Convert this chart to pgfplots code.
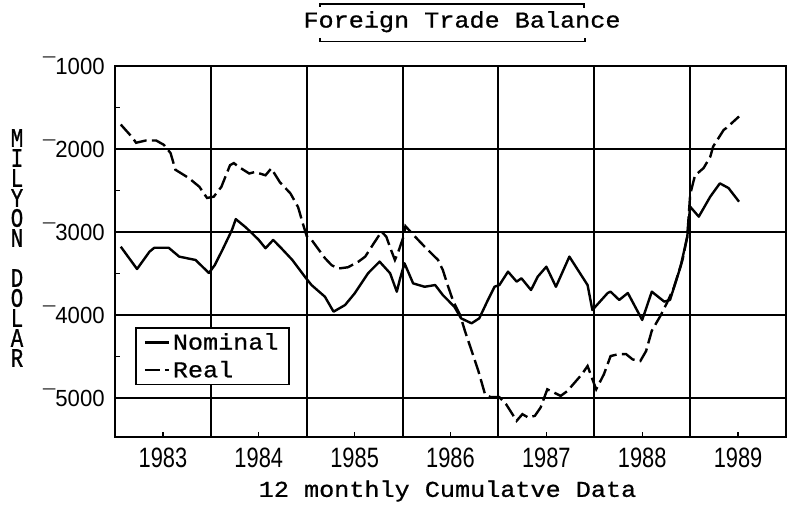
\documentclass[border=0pt]{standalone}
\usepackage{fontspec}
\usepackage{pgfplots}
\pgfplotsset{compat=1.18}
\newfontfamily\monofont[FakeStretch=1.11,FakeBold=0.8]{Liberation Mono}
\newfontfamily\ylabfont[FakeStretch=0.78,FakeBold=0.8]{Liberation Mono}
\newfontfamily\xtickfont[FakeStretch=0.78]{Liberation Sans}
\newfontfamily\ytickfont[FakeStretch=0.95]{Liberation Sans}
\begin{document}
\begin{tikzpicture}
\begin{axis}[
  at={(86.25pt,57.75pt)}, anchor=south west,
  scale only axis, width=503.25pt, height=278.25pt,
  xmin=1983, xmax=1990, ymin=-5470, ymax=-1000,
  axis line style={line width=1.5pt,black},
  xtick={1983.5,1984.5,1985.5,1986.5,1987.5,1988.5,1989.5},
  xticklabels={1983,1984,1985,1986,1987,1988,1989},
  xtick pos=bottom, ytick pos=left, tick align=inside,
  major tick length=4pt, minor tick length=4pt,
  tick style={line width=1pt,black},
  extra x ticks={1984,1985,1986,1987,1988,1989},
  extra x tick labels={},
  extra x tick style={grid=major, major tick length=0pt},
  ytick={-5000,-4000,-3000,-2000,-1000},
  yticklabels={¯5000,¯4000,¯3000,¯2000,¯1000},
  minor ytick={-4500,-3500,-2500,-1500},
  ymajorgrids,
  grid style={line width=1.4pt,black},
  xticklabel style={font=\xtickfont\fontsize{21}{21}\selectfont, anchor=north, inner sep=0pt, yshift=-8.25pt},
  yticklabel style={font=\ytickfont\fontsize{17.5}{17.5}\selectfont, anchor=east, inner sep=0pt, xshift=-7.5pt},
  legend style={at={(0.0298,0.2965)}, anchor=north west, draw=black, line width=1.2pt,
    font=\monofont\fontsize{17}{17}\selectfont, inner xsep=6pt, inner ysep=2pt, row sep=3pt,
    nodes={inner sep=2pt}},
  legend cell align=left,
  legend image code/.code={\draw[#1] (0pt,0pt) -- (18pt,0pt);},
]
\addplot[black, line width=1.8pt, line join=round] coordinates {
(1983.06,-3177)(1983.23,-3446)(1983.36,-3237)(1983.41,-3190)(1983.56,-3190)(1983.67,-3297)
(1983.84,-3337)(1983.98,-3494)(1984.04,-3400)(1984.12,-3217)(1984.22,-2976)(1984.26,-2845)
(1984.36,-2940)(1984.43,-3016)(1984.50,-3096)(1984.57,-3196)(1984.65,-3096)(1984.72,-3177)
(1984.85,-3337)(1984.98,-3538)(1985.05,-3639)(1985.19,-3780)(1985.28,-3960)(1985.40,-3880)
(1985.50,-3740)(1985.64,-3497)(1985.76,-3357)(1985.87,-3497)(1985.94,-3720)(1985.97,-3578)
(1986.02,-3377)(1986.11,-3619)(1986.23,-3660)(1986.34,-3639)(1986.42,-3760)(1986.54,-3900)
(1986.61,-4040)(1986.72,-4100)(1986.80,-4040)(1986.89,-3820)(1986.96,-3659)(1987.01,-3639)
(1987.10,-3478)(1987.19,-3598)(1987.24,-3558)(1987.34,-3699)(1987.41,-3538)(1987.50,-3418)
(1987.60,-3660)(1987.74,-3297)(1987.93,-3639)(1987.98,-3940)(1988.14,-3735)(1988.17,-3719)
(1988.26,-3819)(1988.35,-3735)(1988.50,-4060)(1988.60,-3719)(1988.73,-3839)(1988.79,-3819)
(1988.90,-3418)(1988.97,-3056)(1989.00,-2695)(1989.09,-2815)(1989.21,-2574)(1989.31,-2414)
(1989.40,-2470)(1989.51,-2635)
};
\addlegendentry{Nominal}
\addplot[black, line width=1.8pt, dash pattern=on 11pt off 4pt] coordinates {
(1983.06,-1705)(1983.18,-1860)(1983.22,-1925)(1983.32,-1898)(1983.43,-1898)(1983.51,-1950)
(1983.58,-2050)(1983.63,-2250)(1983.77,-2350)(1983.88,-2455)(1983.96,-2590)(1984.03,-2575)
(1984.11,-2455)(1984.20,-2195)(1984.24,-2170)(1984.29,-2215)(1984.40,-2295)(1984.46,-2277)
(1984.57,-2317)(1984.63,-2234)(1984.72,-2400)(1984.83,-2535)(1984.91,-2700)(1984.96,-2900)
(1985.00,-3050)(1985.05,-3094)(1985.19,-3315)(1985.26,-3400)(1985.33,-3440)(1985.43,-3425)
(1985.54,-3357)(1985.61,-3297)(1985.70,-3136)(1985.78,-2996)(1985.83,-3056)(1985.88,-3217)
(1985.92,-3337)(1985.95,-3257)(1986.01,-3056)(1986.03,-2930)(1986.13,-3056)(1986.23,-3177)
(1986.37,-3337)(1986.42,-3458)(1986.47,-3639)(1986.53,-3840)(1986.60,-4000)(1986.65,-4190)
(1986.72,-4430)(1986.79,-4672)(1986.86,-4954)(1986.92,-4990)(1987.01,-4990)(1987.08,-5075)
(1987.19,-5275)(1987.25,-5195)(1987.31,-5235)(1987.38,-5215)(1987.44,-5115)(1987.51,-4895)
(1987.58,-4935)(1987.65,-4975)(1987.72,-4915)(1987.87,-4715)(1987.93,-4615)(1988.00,-4835)
(1988.02,-4895)(1988.10,-4715)(1988.17,-4495)(1988.24,-4475)(1988.33,-4470)(1988.40,-4535)
(1988.48,-4555)(1988.54,-4435)(1988.60,-4190)(1988.69,-4010)(1988.76,-3850)(1988.83,-3670)
(1988.92,-3337)(1988.97,-3056)(1989.00,-2550)(1989.05,-2320)(1989.14,-2230)(1989.21,-2093)
(1989.24,-1970)(1989.35,-1770)(1989.38,-1745)(1989.51,-1608)
};
\addlegendentry{Real}
\end{axis}
\begin{scope}[x=0.75pt,y=0.75pt]
\node[font=\monofont\fontsize{17}{17}\selectfont] at (462,492.3) {Foreign Trade Balance};
\draw[line width=1pt] (320,507) -- (320,510) -- (584,510) -- (584,506);
\draw[line width=1pt] (320,476) -- (320,472.3) -- (585,472.3) -- (585,476);
\node[font=\monofont\fontsize{17}{17}\selectfont] at (447.5,23) {12 monthly Cumulatve Data};
\node[font=\ylabfont\fontsize{20}{15}\selectfont, align=center, inner sep=0pt] at (17,266)
  {M\\I\\L\\Y\\O\\N\\\mbox{}\\D\\O\\L\\A\\R};
\end{scope}
\pgfresetboundingbox
\path[use as bounding box] (0pt,0pt) rectangle (590.25pt,385.5pt);
\end{tikzpicture}
\end{document}
